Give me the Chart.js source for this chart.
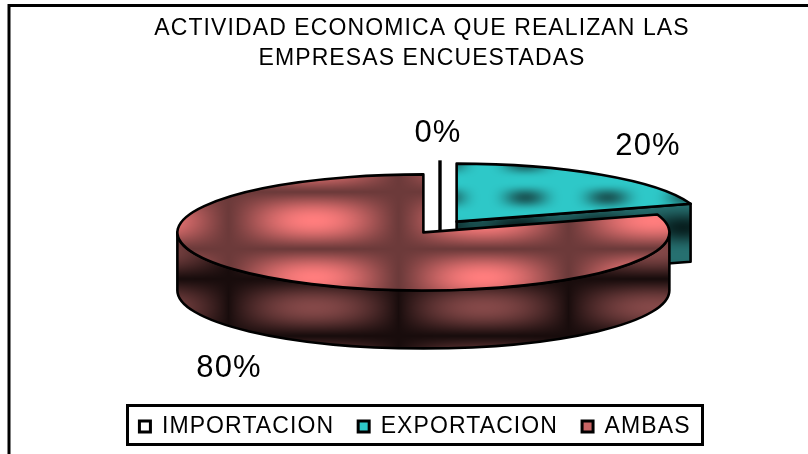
<!DOCTYPE html>
<html><head><meta charset="utf-8">
<style>html,body{margin:0;padding:0;background:#fff}#w{width:808px;height:454px}canvas{display:block}</style>
<script src="https://cdn.jsdelivr.net/npm/chart.js@4"></script></head>
<body><div id="w"><canvas id="c" width="808" height="454"></canvas></div>
<script>
const categories = ['IMPORTACION', 'EXPORTACION', 'AMBAS'];
const shares = [0, 20, 80];
const titleLines = ['ACTIVIDAD ECONOMICA QUE REALIZAN LAS', 'EMPRESAS ENCUESTADAS'];
const swatchColors = ['#ffffff', '#2ec8c8', '#c86464'];

const FONT = '"Liberation Sans", Arial, sans-serif';
const SPACING = '1.1px';
const CX = 440, CY = 227, RX = 246, RY = 58, DEPTH = 58, EXPLODE = 0.115;
const labelSpots = [[438, 133], [648, 146], [229, 368]];

function mix(a, b, t) { return [0, 1, 2].map(i => Math.round(a[i] + (b[i] - a[i]) * t)); }
function tile(w, h, fn) {
  const c = document.createElement('canvas'); c.width = w; c.height = h;
  const x = c.getContext('2d'), d = x.createImageData(w, h);
  for (let j = 0; j < h; j++) for (let i = 0; i < w; i++) {
    const cx = (1 + Math.cos(2 * Math.PI * i / w)) / 2, cy = (1 + Math.cos(2 * Math.PI * j / h)) / 2;
    const col = fn(cx, cy), k = 4 * (j * w + i);
    d.data[k] = col[0]; d.data[k + 1] = col[1]; d.data[k + 2] = col[2]; d.data[k + 3] = 255;
  }
  x.putImageData(d, 0, 0); return c;
}
const tiles = {
  ambasTop: { c: tile(170, 57, (a, b) => mix([108, 58, 58], [255, 125, 125], Math.pow(a * b, 0.6))), ox: 313, oy: 220 },
  ambasWall: { c: tile(170, 57, (a, b) => mix([24, 12, 12], [132, 72, 72], Math.pow(a, 0.45) * Math.pow(b, 0.6))), ox: 313, oy: 307 },
  tealTop: { c: tile(82, 34, (a, b) => mix([46, 200, 200], [26, 90, 90], Math.pow(a * b, 1.4))), ox: 525, oy: 197 },
  tealWall: { c: tile(82, 57, (a, b) => mix([38, 112, 112], [8, 32, 32], Math.pow(b, 1.5) * (0.45 + 0.55 * a))), ox: 683, oy: 227 }
};
function pat(ctx, t) {
  const p = ctx.createPattern(t.c, 'repeat');
  p.setTransform(ctx.getTransform().inverse().translate(t.ox, t.oy));
  return p;
}

const pie3d = {
  id: 'pie3d',
  beforeLayout(chart) { chart.ctx.letterSpacing = SPACING; },
  afterLayout(chart) { chart.legend.left -= 7; chart.legend.right -= 7; },
  beforeDraw(chart) {
    const ctx = chart.ctx;
    ctx.letterSpacing = SPACING;
    ctx.save();
    ctx.fillStyle = '#fff'; ctx.fillRect(0, 0, chart.width, chart.height);
    ctx.strokeStyle = '#000'; ctx.lineWidth = 3;
    ctx.beginPath(); ctx.moveTo(9, 454); ctx.lineTo(9, 5.5); ctx.lineTo(808, 5.5); ctx.stroke();
    ctx.fillStyle = '#fff';
    ctx.beginPath(); ctx.rect(127.5, 405.5, 575, 39); ctx.fill(); ctx.stroke();
    ctx.restore();
  },
  beforeDatasetsDraw(chart) {
    const ctx = chart.ctx, meta = chart.getDatasetMeta(0);
    const dir = el => (el.startAngle + el.endAngle) / 2;
    const centre = el => ({
      x: CX + Math.cos(dir(el)) * RX * EXPLODE,
      y: CY + Math.sin(dir(el)) * RY * EXPLODE
    });
    const P = (c, a) => ({ x: c.x + RX * Math.cos(a), y: c.y + RY * Math.sin(a) });
    const edge = () => {
      ctx.lineWidth = 2.6; ctx.strokeStyle = '#000'; ctx.lineJoin = 'round'; ctx.stroke();
    };
    const wall = (el, tileKey, withCut) => {
      const c = centre(el);
      const a = Math.max(el.startAngle, 0), b = Math.min(el.endAngle, Math.PI);
      ctx.save();
      ctx.fillStyle = pat(ctx, tiles[tileKey]);
      if (withCut) {
        const s = P(c, el.endAngle);
        ctx.beginPath();
        ctx.moveTo(c.x, c.y); ctx.lineTo(s.x, s.y); ctx.lineTo(s.x, s.y + DEPTH); ctx.lineTo(c.x, c.y + DEPTH); ctx.closePath();
        ctx.fill(); edge();
      }
      if (b > a) {
        ctx.beginPath();
        ctx.ellipse(c.x, c.y, RX, RY, 0, a, b, false);
        ctx.ellipse(c.x, c.y + DEPTH, RX, RY, 0, b, a, true);
        ctx.closePath();
        ctx.fill(); edge();
      }
      ctx.restore();
    };
    const top = (el, tileKey) => {
      const c = centre(el), R = el.outerRadius;
      ctx.save();
      ctx.translate(c.x, c.y); ctx.scale(RX / R, RY / R); ctx.translate(-el.x, -el.y);
      const keep = el.options, o = Object.create(keep);
      o.backgroundColor = pat(ctx, tiles[tileKey]);
      el.options = o;
      el.draw(ctx);
      el.options = keep;
      ctx.restore();
      ctx.save();
      ctx.beginPath(); ctx.moveTo(c.x, c.y);
      ctx.ellipse(c.x, c.y, RX, RY, 0, el.startAngle, el.endAngle, false);
      ctx.closePath(); edge();
      ctx.restore();
    };
    const [zero, exp, both] = meta.data;
    // teal slice first: the big slice overlaps it
    wall(exp, 'tealWall', true);
    top(exp, 'tealTop');
    // zero share: a slice with no width is just its edge
    const zc = centre(zero), zp = P(zc, zero.startAngle);
    ctx.save();
    ctx.lineWidth = 3.4; ctx.strokeStyle = '#000';
    ctx.beginPath(); ctx.moveTo(zc.x, CY + 3); ctx.lineTo(zp.x, zp.y - 2); ctx.stroke();
    ctx.restore();
    wall(both, 'ambasWall', false);
    top(both, 'ambasTop');
    return false;
  },
  afterDraw(chart) {
    const ctx = chart.ctx;
    ctx.save();
    ctx.font = '31px ' + FONT; ctx.fillStyle = '#000';
    ctx.textAlign = 'center'; ctx.textBaseline = 'middle';
    shares.forEach((v, i) => ctx.fillText(v + '%', labelSpots[i][0], labelSpots[i][1]));
    ctx.restore();
  }
};

new Chart(document.getElementById('c'), {
  type: 'pie',
  data: { labels: categories, datasets: [{ data: shares, backgroundColor: swatchColors, borderWidth: 0 }] },
  options: {
    responsive: false, animation: false, events: [],
    layout: { padding: { left: 36, right: 0, top: 0, bottom: 6 } },
    plugins: {
      tooltip: { enabled: false },
      title: {
        display: true, text: titleLines, color: '#000',
        font: { family: FONT, size: 23, weight: 'normal', lineHeight: 1.3 },
        padding: { top: 14, bottom: 0 }
      },
      legend: {
        position: 'bottom',
        labels: {
          color: '#000', font: { family: FONT, size: 23 }, boxWidth: 11, boxHeight: 11, padding: 24,
          generateLabels: () => categories.map((t, i) => ({
            text: t, fillStyle: swatchColors[i], strokeStyle: '#000', lineWidth: 3, index: i, hidden: false
          }))
        }
      }
    }
  },
  plugins: [pie3d]
});
</script></body></html>
